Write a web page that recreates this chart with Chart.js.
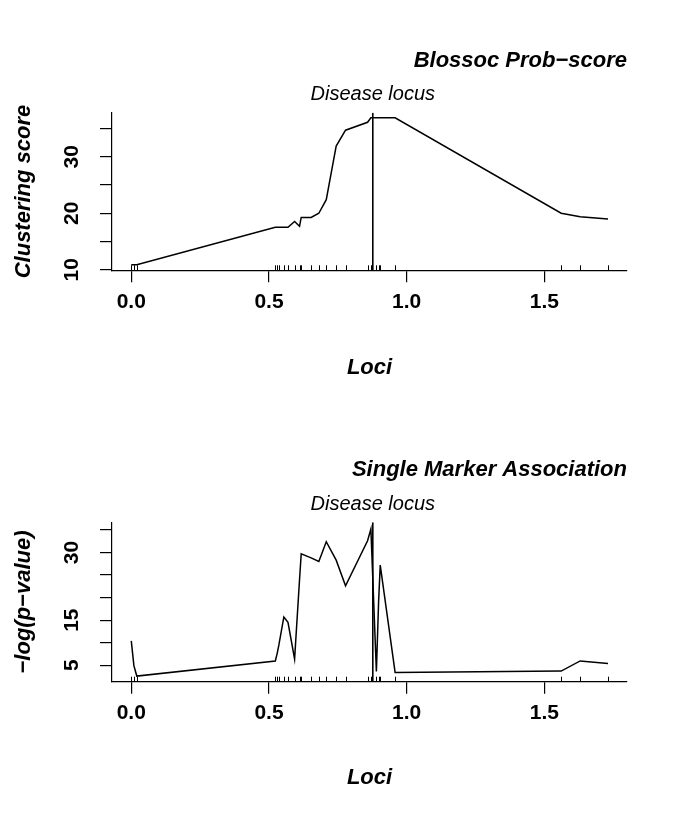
<!DOCTYPE html>
<html>
<head>
<meta charset="utf-8">
<script src="https://cdn.jsdelivr.net/npm/chart.js@4.4.0/dist/chart.umd.min.js"></script>
<style>
  html, body { margin: 0; padding: 0; background: #fff; }
  #wrap { position: relative; width: 685px; height: 822px; }
  canvas { position: absolute; left: 0; }
</style>
</head>
<body>
<div id="wrap">
  <canvas id="topChart" width="685" height="411" style="top:0"></canvas>
  <canvas id="bottomChart" width="685" height="411" style="top:411px"></canvas>
</div>
<script>
// marker positions (rug) and the two scores
const loci = [0, 0.0095, 0.02, 0.523, 0.530, 0.536, 0.554, 0.569, 0.593, 0.611, 0.617,
  0.653, 0.681, 0.708, 0.744, 0.778, 0.858, 0.870, 0.890, 0.898, 0.904, 0.958,
  1.561, 1.630, 1.731];
const blossocScore = [10.9, 10.9, 10.9, 17.5, 17.5, 17.5, 17.5, 17.5, 18.55, 17.7, 19.26,
  19.26, 20.0, 22.4, 31.9, 34.7, 36.1, 36.9, 36.9, 36.9, 36.9, 36.9,
  20.0, 19.4, 19.0];
const singleMarker = [10.4, 4.9, 2.6, 5.95, 7.7, 9.5, 15.7, 14.5, 6.4, 24.0, 29.7,
  28.8, 28.0, 32.4, 28.3, 22.6, 32.6, 35.2, 3.6, 19.0, 27.2, 3.4,
  3.7, 5.95, 5.4];
const diseaseLocus = 0.877;

const xTicks = [0, 0.5, 1.0, 1.5];
const topYTicks = [10, 15, 20, 25, 30, 35];
const topYLabels = [10, 20, 30];
const bottomYTicks = [5, 10, 15, 20, 25, 30, 35];
const bottomYLabels = [5, 15, 30];

Chart.defaults.font.family = '"Liberation Sans", Arial, Helvetica, sans-serif';
Chart.defaults.color = '#000';

// y tick labels in R style (rotated, parallel to the axis)
const yLabelPlugin = {
  id: 'yLabels',
  afterDraw(chart, args, opts) {
    const ctx = chart.ctx;
    const yScale = chart.scales.y;
    ctx.save();
    ctx.font = 'bold 21px "Liberation Sans", Arial, sans-serif';
    ctx.fillStyle = '#000';
    ctx.textAlign = 'center';
    ctx.textBaseline = 'middle';
    opts.labels.forEach((v) => {
      ctx.save();
      ctx.translate(opts.x, yScale.getPixelForValue(v));
      ctx.rotate(-Math.PI / 2);
      ctx.fillText(String(v), 0, 0);
      ctx.restore();
    });
    ctx.restore();
  },
};

// rug of marker positions + "Disease locus" label
const rugPlugin = {
  id: 'rug',
  afterDatasetsDraw(chart, args, opts) {
    const ctx = chart.ctx;
    const xScale = chart.scales.x;
    const bottom = chart.chartArea.bottom;
    ctx.save();
    ctx.strokeStyle = '#000';
    ctx.lineWidth = 1;
    opts.positions.forEach((p) => {
      const px = Math.round(xScale.getPixelForValue(p)) + 0.5;
      ctx.beginPath();
      ctx.moveTo(px, bottom);
      ctx.lineTo(px, bottom - 5);
      ctx.stroke();
    });
    ctx.font = 'italic 20px "Liberation Sans", Arial, sans-serif';
    ctx.fillStyle = '#000';
    ctx.textAlign = 'center';
    ctx.textBaseline = 'middle';
    ctx.fillText(opts.label, xScale.getPixelForValue(opts.locus), chart.chartArea.top - 18);
    ctx.restore();
  },
};

function makeChart(id, title, yTitle, scores, yMin, yMax, yTicks, yLabels, lay) {
  const ctx = document.getElementById(id).getContext('2d');
  return new Chart(ctx, {
    type: 'line',
    data: {
      datasets: [
        {
          data: loci.map((x, i) => ({ x: x, y: scores[i] })),
          borderColor: '#000',
          borderWidth: 1.5,
          pointRadius: 0,
          tension: 0,
        },
        {
          data: [{ x: diseaseLocus, y: yMin }, { x: diseaseLocus, y: yMax }],
          borderColor: '#000',
          borderWidth: 1.6,
          pointRadius: 0,
        },
      ],
    },
    options: {
      responsive: false,
      animation: false,
      devicePixelRatio: 1,
      layout: { padding: { top: 0, left: 0, right: 58, bottom: 0 } },
      plugins: {
        legend: { display: false },
        tooltip: { enabled: false },
        title: {
          display: true,
          text: title,
          align: 'end',
          color: '#000',
          font: { size: 22, weight: 'bold', style: 'italic' },
          padding: { top: lay.titleTop, bottom: lay.titleBottom },
        },
        yLabels: { labels: yLabels, x: 72 },
        rug: { positions: loci, locus: diseaseLocus, label: 'Disease locus' },
      },
      scales: {
        x: {
          type: 'linear',
          min: -0.07,
          max: 1.80,
          afterBuildTicks: (s) => { s.ticks = xTicks.map((v) => ({ value: v })); },
          afterFit: (s) => { s.height = lay.xHeight; },
          ticks: {
            padding: 7,
            font: { size: 21, weight: 'bold' },
            callback: (v) => Number(v).toFixed(1),
            maxRotation: 0,
          },
          grid: { drawOnChartArea: false, drawTicks: true, tickLength: 12, color: '#000', lineWidth: 1.2 },
          border: { display: true, color: '#000', width: 1.2 },
          title: {
            display: true,
            text: 'Loci',
            font: { size: 22, weight: 'bold', style: 'italic' },
            padding: { top: 0, bottom: lay.lociBottom },
          },
        },
        y: {
          type: 'linear',
          min: yMin,
          max: yMax,
          afterBuildTicks: (s) => { s.ticks = yTicks.map((v) => ({ value: v })); },
          afterFit: (s) => { s.width = 112; },
          ticks: { display: false },
          grid: { drawOnChartArea: false, drawTicks: true, tickLength: 12, color: '#000', lineWidth: 1.2 },
          border: { display: true, color: '#000', width: 1.2 },
          title: {
            display: true,
            text: yTitle,
            font: { size: 22, weight: 'bold', style: 'italic' },
            padding: { top: 10.8, bottom: 0 },
          },
        },
      },
    },
    plugins: [yLabelPlugin, rugPlugin],
  });
}

makeChart('topChart', 'Blossoc Prob\u2212score', 'Clustering score', blossocScore,
  9.9, 37.8, topYTicks, topYLabels,
  { titleTop: 47.8, titleBottom: 38.5, xHeight: 140.7, lociBottom: 29.8 });

makeChart('bottomChart', 'Single Marker Association', '\u2212log(p\u2212value)', singleMarker,
  1.35, 36.7, bottomYTicks, bottomYLabels,
  { titleTop: 45.8, titleBottom: 39.1, xHeight: 140.3, lociBottom: 30.8 });
</script>
</body>
</html>
